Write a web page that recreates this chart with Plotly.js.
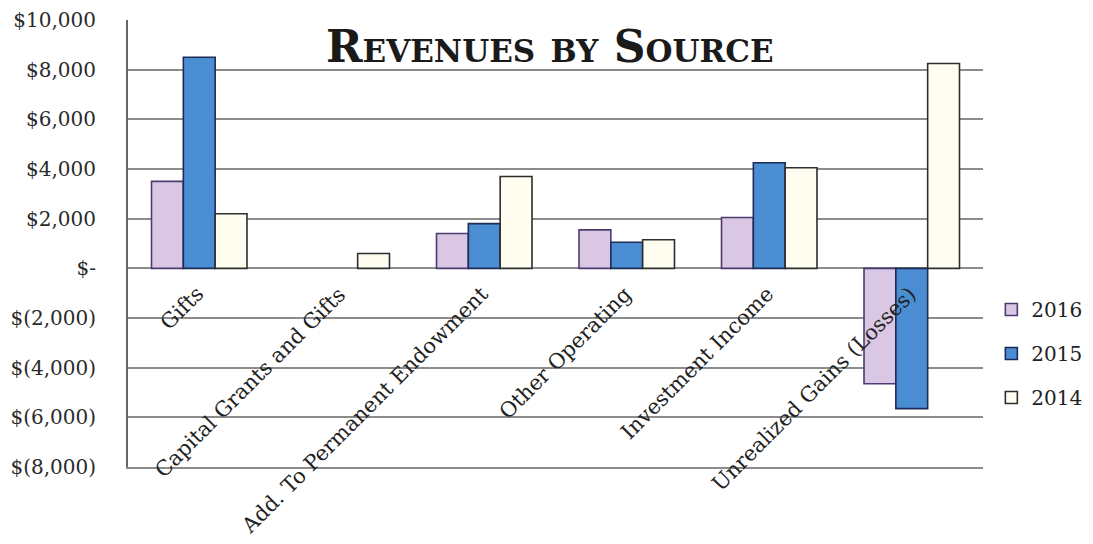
<!DOCTYPE html>
<html>
<head>
<meta charset="utf-8">
<script src="https://cdn.plot.ly/plotly-3.0.1.min.js"></script>
<style>html,body{margin:0;padding:0;background:#fff;}#chart{width:1093px;height:544px;}</style>
</head>
<body>
<div id="chart"></div>
<script>
const categories = ["Gifts", "Capital Grants and Gifts", "Add. To Permanent Endowment", "Other Operating", "Investment Income", "Unrealized Gains (Losses)"];
const seriesNames = ["2016", "2015", "2014"];
const values2016 = [3500, null, 1400, 1550, 2050, -4650];
const values2015 = [8500, null, 1800, 1050, 4250, -5650];
const values2014 = [2200, 600, 3700, 1150, 4050, 8250];
const yTickVals = [10000, 8000, 6000, 4000, 2000, 0, -2000, -4000, -6000, -8000];
const yTickText = ["$10,000", "$8,000", "$6,000", "$4,000", "$2,000", "$-", "$(2,000)", "$(4,000)", "$(6,000)", "$(8,000)"];

const fills = ["#d9c7e3", "#4a8dd3", "#fffcf0"];
const edges = ["#4b3c70", "#1d2b55", "#2e2e2e"];
const allValues = [values2016, values2015, values2014];

const serif = "DejaVu Serif, Liberation Serif, serif";

const traces = allValues.map((vals, i) => ({
  type: "bar",
  name: seriesNames[i],
  legendgroup: seriesNames[i],
  x: categories,
  y: vals,
  marker: {color: fills[i], line: {color: edges[i], width: 1.6}},
  hoverinfo: "x+y+name"
}));

const annotations = categories.map(c => ({
  x: c, y: 0, xref: "x", yref: "y",
  text: c, showarrow: false,
  textangle: -45,
  xanchor: "right", yanchor: "top",
  xshift: 12, yshift: -11,
  font: {family: serif, size: 21, color: "#222"}
}));

const layout = {
  width: 1093, height: 544,
  paper_bgcolor: "#fff", plot_bgcolor: "#fff",
  margin: {l: 128, r: 110, t: 20, b: 77},
  title: {
    text: "Revenues by Source",
    font: {family: serif, size: 44, color: "#1a1a1a", weight: "bold", variant: "small-caps"},
    x: 0.503, xanchor: "center", y: 0.915, yanchor: "middle"
  },
  barmode: "group",
  bargap: 0.33,
  bargroupgap: 0,
  showlegend: true,
  legend: {
    xref: "container", yref: "container",
    x: 0.907, xanchor: "left", y: 0.467, yanchor: "top",
    traceorder: "grouped", tracegroupgap: 15,
    font: {family: serif, size: 20, color: "#222"},
    itemwidth: 30, bgcolor: "rgba(0,0,0,0)"
  },
  xaxis: {
    type: "category",
    showticklabels: false,
    showgrid: false, zeroline: false,
    showline: true, linecolor: "#8c8c8c", linewidth: 2, ticks: ""
  },
  yaxis: {
    range: [-8000, 10000],
    tickvals: yTickVals, ticktext: yTickText,
    tickfont: {family: serif, size: 20, color: "#2a2a2a"},
    ticklabelstandoff: 26,
    showgrid: true, gridcolor: "#8c8c8c", gridwidth: 2,
    zeroline: true, zerolinecolor: "#8c8c8c", zerolinewidth: 2,
    showline: true, linecolor: "#666", linewidth: 2,
    ticks: "", automargin: false
  },
  annotations: annotations
};

Plotly.newPlot("chart", traces, layout, {displayModeBar: false, staticPlot: true});
</script>
</body>
</html>
